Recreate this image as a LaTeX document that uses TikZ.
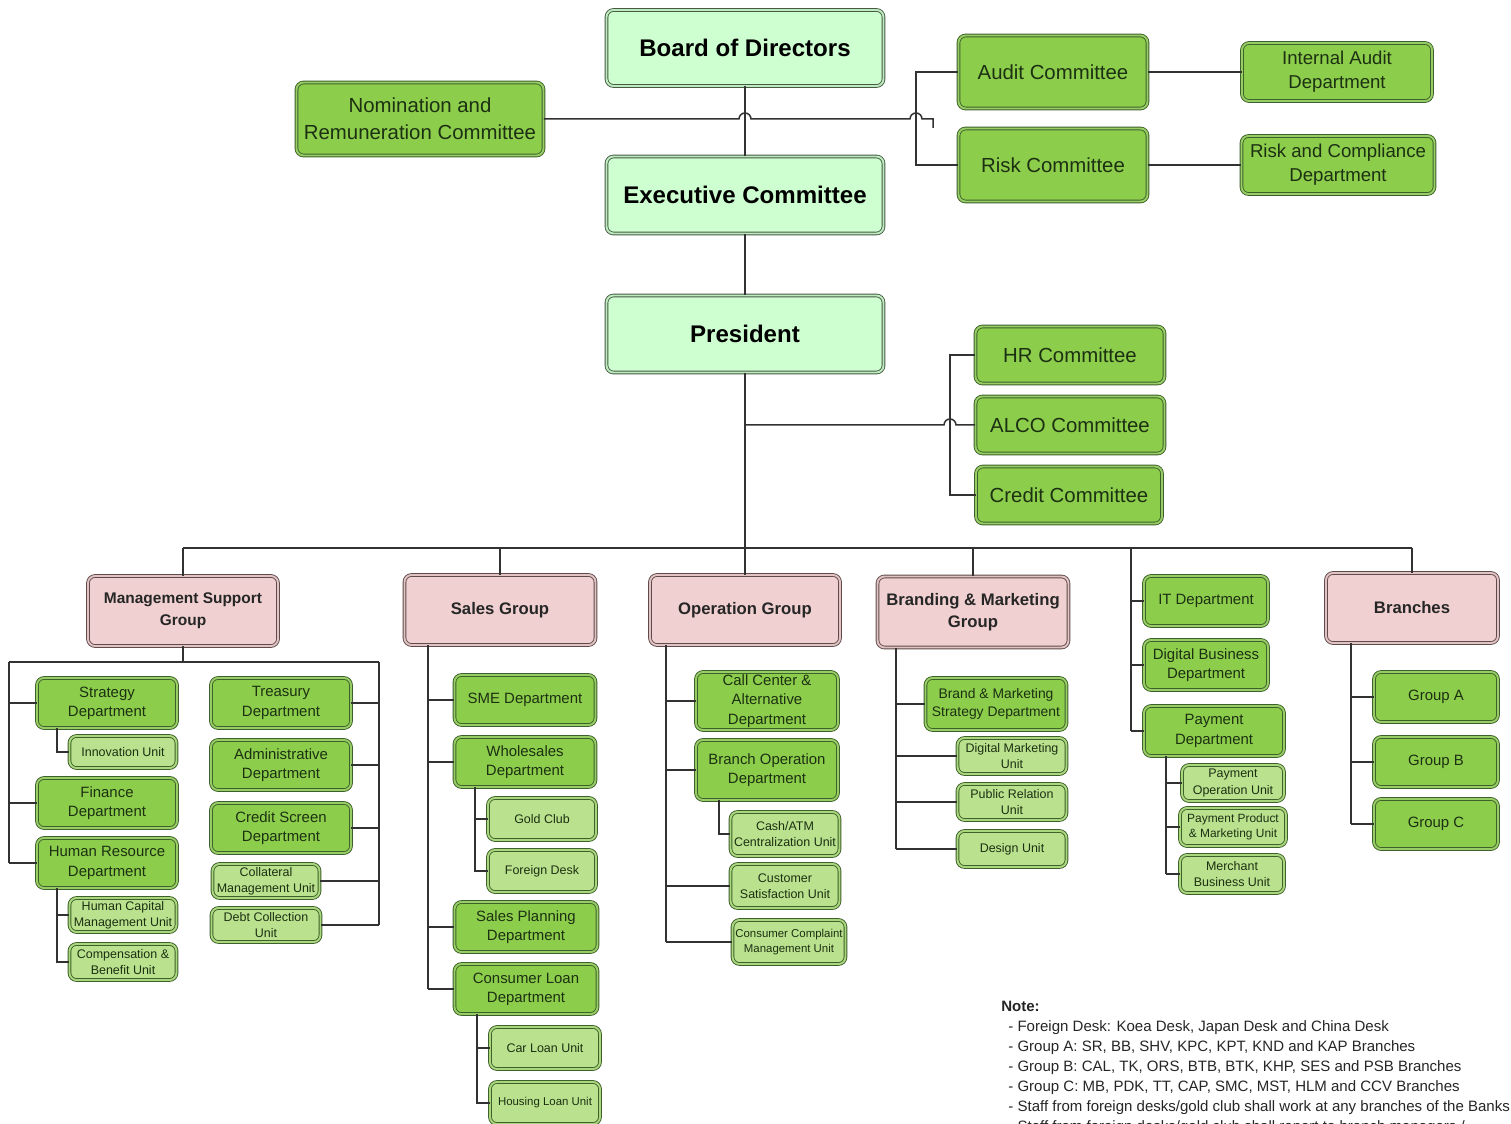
\documentclass[tikz,border=0pt]{standalone}
\usepackage{fontspec}
\setmainfont{Liberation Sans}
\usetikzlibrary{calc}
\definecolor{topfill}{RGB}{206,255,208}
\definecolor{topbd}{RGB}{70,90,70}
\definecolor{topgap}{RGB}{190,235,190}
\definecolor{gfill}{RGB}{141,205,76}
\definecolor{gbd}{RGB}{62,96,42}
\definecolor{ggap}{RGB}{150,205,100}
\definecolor{ufill}{RGB}{186,226,142}
\definecolor{ugap}{RGB}{170,215,125}
\definecolor{pfill}{RGB}{240,208,208}
\definecolor{pbd}{RGB}{95,75,75}
\definecolor{pgap}{RGB}{225,195,195}
\definecolor{gtxt}{RGB}{28,48,18}
\definecolor{lnclr}{RGB}{50,50,50}
\tikzset{
  sz/.style 2 args={minimum width=#1*0.02cm, minimum height=#2*0.02cm},
  base/.style={rounded corners=4pt, align=center, inner sep=0pt, line width=0.5pt, double distance=1.1pt},
  topbox/.style={base, draw=topbd, double=topgap, fill=topfill, text=black, font=\fontsize{13.7}{16}\selectfont\bfseries},
  gbig/.style={base, draw=gbd, double=ggap, fill=gfill, text=gtxt, font=\fontsize{11.6}{15.2}\selectfont},
  gmed/.style={base, draw=gbd, double=ggap, fill=gfill, text=gtxt, font=\fontsize{10.6}{13.6}\selectfont},
  pbox/.style={base, draw=pbd, double=pgap, fill=pfill, text=black!85, font=\fontsize{9.5}{12.5}\selectfont\bfseries},
  gdep/.style={base, draw=gbd, double=ggap, fill=gfill, text=gtxt, font=\fontsize{8.5}{11}\selectfont},
  unit/.style={base, draw=gbd, double=ugap, fill=ufill, text=gtxt, font=\fontsize{7.1}{9.2}\selectfont},
  sunit/.style={unit, font=\fontsize{6.5}{8.6}\selectfont},
  ln/.style={draw=lnclr, line width=0.85pt},
  notes/.style={align=left, inner sep=0pt, text=black!85, font=\fontsize{8.55}{11.4}\selectfont},
}
\begin{document}
\begin{tikzpicture}[x=0.02cm,y=-0.02cm]
\useasboundingbox[fill=white] (0,0) rectangle (1511,1124);

% top
\node[topbox, sz={277}{76}] (bod) at (745,48) {Board of Directors};
\node[topbox, sz={277}{77}] (exec) at (745,195) {Executive Committee};
\node[topbox, sz={277}{77}] (pres) at (745,334) {President};
\node[gbig, sz={247}{73}] (nom) at (420,119) {Nomination and\\Remuneration Committee};
\node[gbig, sz={189}{73}] (aud) at (1053,72) {Audit Committee};
\node[gbig, sz={189}{73}] (risk) at (1053,165) {Risk Committee};
\node[gmed, sz={190}{58}] (iad) at (1337,72) {Internal Audit\\Department};
\node[gmed, sz={193}{58}] (rcd) at (1338,165) {Risk and Compliance\\Department};
\node[gbig, sz={189}{57}] (hrc) at (1070,355) {HR Committee};
\node[gbig, sz={189}{57}] (alco) at (1070,425) {ALCO Committee};
\node[gbig, sz={186}{57}] (cred) at (1069,495) {Credit Committee};

% groups
\node[pbox, sz={190}{70}, font=\fontsize{8.8}{12.5}\selectfont\bfseries] (msg) at (183,611) {Management Support\\Group};
\node[pbox, sz={191}{70}] (sal) at (500,610) {Sales Group};
\node[pbox, sz={190}{70}] (opg) at (745,610) {Operation Group};
\node[pbox, sz={191}{71}] (bmg) at (973,612) {Branding \& Marketing\\Group};
\node[pbox, sz={172}{70}] (brn) at (1412,608) {Branches};

% management support
\node[gdep, sz={140}{50}] (strat) at (107,703) {Strategy\\Department};
\node[unit, sz={107}{32}] (innov) at (123,752) {Innovation Unit};
\node[gdep, sz={140}{50}] (fin) at (107,803) {Finance\\Department};
\node[gdep, sz={140}{50}] (hrd) at (107,863) {Human Resource\\Department};
\node[unit, sz={107}{34}] (hcm) at (123,915) {Human Capital\\Management Unit};
\node[unit, sz={107}{36}] (comp) at (123,962) {Compensation \&\\Benefit Unit};
\node[gdep, sz={140}{50}] (treas) at (281,703) {Treasury\\Department};
\node[gdep, sz={140}{50}] (adm) at (281,765) {Administrative\\Department};
\node[gdep, sz={140}{50}] (csd) at (281,828) {Credit Screen\\Department};
\node[unit, sz={107}{34}] (coll) at (266,881) {Collateral\\Management Unit};
\node[unit, sz={109}{34}] (debt) at (266,925) {Debt Collection\\Unit};

% sales
\node[gdep, sz={141}{50}] (sme) at (525,700) {SME Department};
\node[gdep, sz={141}{50}] (whs) at (525,762) {Wholesales\\Department};
\node[unit, sz={108}{42}] (gold) at (542,819) {Gold Club};
\node[unit, sz={108}{42}] (fdesk) at (542,871) {Foreign Desk};
\node[gdep, sz={143}{50}] (spd) at (526,927) {Sales Planning\\Department};
\node[gdep, sz={143}{50}] (cld) at (526,989) {Consumer Loan\\Department};
\node[unit, sz={110}{42}] (car) at (545,1048) {Car Loan Unit};
\node[sunit, sz={110}{42}] (house) at (545,1103) {Housing Loan Unit};

% operation
\node[gdep, sz={142}{58}] (ccd) at (767,701) {Call Center \&\\Alternative\\Department};
\node[gdep, sz={142}{60}] (bop) at (767,770) {Branch Operation\\Department};
\node[unit, sz={109}{44}] (cash) at (785,834) {Cash/ATM\\Centralization Unit};
\node[unit, sz={109}{44}] (cust) at (785,886) {Customer\\Satisfaction Unit};
\node[sunit, sz={113}{44}] (ccm) at (789,942) {Consumer Complaint\\Management Unit};

% branding
\node[gdep, sz={141}{52}, font=\fontsize{7.9}{10.5}\selectfont] (bms) at (996,704) {Brand \& Marketing\\Strategy Department};
\node[unit, sz={109}{36}] (dmu) at (1012,756) {Digital Marketing\\Unit};
\node[unit, sz={109}{36}] (pru) at (1012,802) {Public Relation\\Unit};
\node[unit, sz={109}{36}] (des) at (1012,849) {Design Unit};

% IT / digital / payment
\node[gdep, sz={124}{50}] (itd) at (1206,601) {IT Department};
\node[gdep, sz={124}{50}] (dbd) at (1206,665) {Digital Business\\Department};
\node[gdep, sz={140}{50}] (payd) at (1214,731) {Payment\\Department};
\node[unit, sz={102}{36}] (pou) at (1233,783) {Payment\\Operation Unit};
\node[unit, sz={106}{38}, font=\fontsize{6.8}{9}\selectfont] (ppm) at (1233,827) {Payment Product\\\& Marketing Unit};
\node[unit, sz={104}{38}] (mbu) at (1232,874) {Merchant\\Business Unit};

% branches
\node[gdep, sz={124}{50}] (ga) at (1436,697) {Group A};
\node[gdep, sz={124}{50}] (gb) at (1436,762) {Group B};
\node[gdep, sz={124}{50}] (gc) at (1436,824) {Group C};

% note
\node[notes, anchor=north west] (note) at (1001,1001) {\textbf{Note:}\\
\hspace{4pt}- Foreign Desk: Koea Desk, Japan Desk and China Desk\\
\hspace{4pt}- Group A: SR, BB, SHV, KPC, KPT, KND and KAP Branches\\
\hspace{4pt}- Group B: CAL, TK, ORS, BTB, BTK, KHP, SES and PSB Branches\\
\hspace{4pt}- Group C: MB, PDK, TT, CAP, SMC, MST, HLM and CCV Branches\\
\hspace{4pt}- Staff from foreign desks/gold club shall work at any branches of the Banks\\
\hspace{4pt}- Staff from foreign desks/gold club shall report to branch managers /};

% ---------- connectors ----------
\draw[ln] (bod.south) -- (exec.north);
\draw[ln] (exec.south) -- (pres.north);
\coordinate (bus) at (0,548);
\draw[ln] (pres.south) -- (pres.south |- bus);

\coordinate (j1) at (739,119);
\coordinate (j2) at (910,119);
\coordinate (tick) at (933,128);
\draw[ln] (nom.east) -- (j1) arc[start angle=180, end angle=0, radius=0.12cm] -- (j2) arc[start angle=180, end angle=0, radius=0.12cm] -- (tick |- j2) -- (tick);

\coordinate (ax) at (916,0);
\draw[ln] (aud.west) -- (aud.west -| ax) -- (risk.west -| ax) -- (risk.west);
\draw[ln] (aud.east) -- (iad.west);
\draw[ln] (risk.east) -- (rcd.west);

\coordinate (hx) at (950,0);
\coordinate (j3) at (944,425);
\draw[ln] (hrc.west) -- (hrc.west -| hx) -- (cred.west -| hx) -- (cred.west);
\draw[ln] (pres.south |- alco.west) -- (j3) arc[start angle=180, end angle=0, radius=0.12cm] -- (alco.west);

\draw[ln] (msg.north |- bus) -- (brn.north |- bus);
\foreach \g in {msg,sal,opg,bmg,brn} \draw[ln] (\g.north |- bus) -- (\g.north);

% IT trunk
\coordinate (itx) at (1131,548);
\draw[ln] (itx) -- (itx |- payd.west);
\foreach \n in {itd,dbd,payd} \draw[ln] (itx |- \n.west) -- (\n.west);
\coordinate (pT) at (1166,0);
\draw[ln] (pT |- payd.south) -- (pT |- mbu.west);
\foreach \n in {pou,ppm,mbu} \draw[ln] (pT |- \n.west) -- (\n.west);

% management support
\coordinate (mL) at (9,662);
\coordinate (mR) at (379,662);
\draw[ln] (msg.south) -- (msg.south |- mL);
\draw[ln] (mL) -- (mR);
\draw[ln] (mL) -- (mL |- hrd.west);
\draw[ln] (mR) -- (mR |- debt.east);
\foreach \n in {strat,fin,hrd} \draw[ln] (mL |- \n.west) -- (\n.west);
\foreach \n in {treas,adm,csd,coll,debt} \draw[ln] (mR |- \n.east) -- (\n.east);
\coordinate (sx1) at (57,0);
\draw[ln] (sx1 |- strat.south) -- (sx1 |- innov.west) -- (innov.west);
\draw[ln] (sx1 |- hrd.south) -- (sx1 |- comp.west) -- (comp.west);
\draw[ln] (sx1 |- hcm.west) -- (hcm.west);

% sales
\coordinate (sT) at (428,0);
\draw[ln] (sT |- sal.south) -- (sT |- cld.west);
\foreach \n in {sme,whs,spd,cld} \draw[ln] (sT |- \n.west) -- (\n.west);
\coordinate (sW) at (475,0);
\draw[ln] (sW |- whs.south) -- (sW |- fdesk.west) -- (fdesk.west);
\draw[ln] (sW |- gold.west) -- (gold.west);
\coordinate (sC) at (477,0);
\draw[ln] (sC |- cld.south) -- (sC |- house.west) -- (house.west);
\draw[ln] (sC |- car.west) -- (car.west);

% operation
\coordinate (oT) at (666,0);
\draw[ln] (oT |- opg.south) -- (oT |- ccm.west);
\foreach \n in {ccd,bop,cust,ccm} \draw[ln] (oT |- \n.west) -- (\n.west);
\coordinate (oB) at (719,0);
\draw[ln] (oB |- bop.south) -- (oB |- cash.west) -- (cash.west);

% branding
\coordinate (bT) at (896,0);
\draw[ln] (bT |- bmg.south) -- (bT |- des.west);
\foreach \n in {bms,dmu,pru,des} \draw[ln] (bT |- \n.west) -- (\n.west);

% branches
\coordinate (rT) at (1351,0);
\draw[ln] (rT |- brn.south) -- (rT |- gc.west);
\foreach \n in {ga,gb,gc} \draw[ln] (rT |- \n.west) -- (\n.west);
\end{tikzpicture}
\end{document}
